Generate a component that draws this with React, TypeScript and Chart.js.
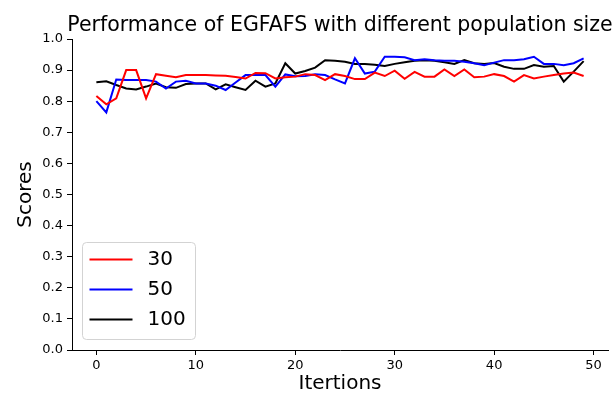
import React, { useEffect, useRef } from "react";
import { Chart, registerables } from "chart.js";

Chart.register(...registerables);

const ITERATIONS = [
  0, 1, 2, 3, 4, 5, 6, 7, 8, 9, 10, 11, 12, 13, 14, 15, 16, 17, 18, 19, 20, 21, 22, 23, 24,
  25, 26, 27, 28, 29, 30, 31, 32, 33, 34, 35, 36, 37, 38, 39, 40, 41, 42, 43, 44, 45, 46, 47, 48, 49,
];

const POP_30 = [
  0.817, 0.79, 0.809, 0.9, 0.9, 0.809, 0.887, 0.882, 0.877, 0.884,
  0.884, 0.884, 0.883, 0.882, 0.878, 0.873, 0.891, 0.89, 0.873, 0.877,
  0.879, 0.887, 0.884, 0.868, 0.887, 0.881, 0.871, 0.871, 0.892, 0.881,
  0.898, 0.872, 0.894, 0.879, 0.879, 0.902, 0.881, 0.902, 0.877, 0.879,
  0.887, 0.881, 0.863, 0.884, 0.873, 0.879, 0.884, 0.889, 0.892, 0.881,
];

const POP_50 = [
  0.8, 0.764, 0.87, 0.868, 0.868, 0.868, 0.863, 0.841, 0.863, 0.866,
  0.857, 0.857, 0.85, 0.836, 0.86, 0.884, 0.884, 0.884, 0.847, 0.886,
  0.88, 0.881, 0.887, 0.884, 0.87, 0.857, 0.938, 0.889, 0.895, 0.943,
  0.943, 0.941, 0.932, 0.935, 0.932, 0.93, 0.93, 0.927, 0.922, 0.916,
  0.924, 0.932, 0.932, 0.935, 0.943, 0.92, 0.92, 0.916, 0.922, 0.938,
];

const POP_100 = [
  0.861, 0.864, 0.852, 0.841, 0.838, 0.847, 0.857, 0.845, 0.843, 0.855,
  0.857, 0.857, 0.838, 0.854, 0.845, 0.836, 0.866, 0.847, 0.857, 0.922,
  0.889, 0.897, 0.908, 0.932, 0.93, 0.927, 0.92, 0.92, 0.917, 0.913,
  0.92, 0.925, 0.93, 0.932, 0.93, 0.925, 0.92, 0.932, 0.922, 0.92,
  0.923, 0.911, 0.904, 0.904, 0.916, 0.911, 0.913, 0.863, 0.895, 0.929,
];

const SERIES_LABELS = ["30", "50", "100"];
const SERIES_COLORS = ["#ff0000", "#0000ff", "#000000"];
const X_TICKS = [0, 10, 20, 30, 40, 50];
const Y_TICKS = [0, 0.1, 0.2, 0.3, 0.4, 0.5, 0.6, 0.7, 0.8, 0.9, 1.0];

const TITLE = "Performance of EGFAFS with different population size";
const X_LABEL = "Itertions";
const Y_LABEL = "Scores";
const FONT = "'DejaVu Sans', sans-serif";

const titlePlugin = {
  id: "mplTitle",
  afterDraw(chart: any) {
    const { ctx, chartArea } = chart;
    ctx.save();
    ctx.font = `20.5px ${FONT}`;
    ctx.fillStyle = "#000";
    ctx.textAlign = "center";
    ctx.textBaseline = "alphabetic";
    ctx.fillText(TITLE, (chartArea.left + chartArea.right) / 2, chartArea.top - 8);
    ctx.restore();
  },
};

const legendPlugin = {
  id: "mplLegend",
  afterDraw(chart: any) {
    const { ctx, chartArea } = chart;
    const boxX = chartArea.left + 10.5;
    const boxW = 113;
    const boxH = 97;
    const boxY = chartArea.bottom - 10.5 - boxH;
    ctx.save();
    ctx.beginPath();
    const r = 4;
    ctx.moveTo(boxX + r, boxY);
    ctx.lineTo(boxX + boxW - r, boxY);
    ctx.quadraticCurveTo(boxX + boxW, boxY, boxX + boxW, boxY + r);
    ctx.lineTo(boxX + boxW, boxY + boxH - r);
    ctx.quadraticCurveTo(boxX + boxW, boxY + boxH, boxX + boxW - r, boxY + boxH);
    ctx.lineTo(boxX + r, boxY + boxH);
    ctx.quadraticCurveTo(boxX, boxY + boxH, boxX, boxY + boxH - r);
    ctx.lineTo(boxX, boxY + r);
    ctx.quadraticCurveTo(boxX, boxY, boxX + r, boxY);
    ctx.closePath();
    ctx.fillStyle = "rgba(255,255,255,0.8)";
    ctx.fill();
    ctx.strokeStyle = "#d3d3d3";
    ctx.lineWidth = 1;
    ctx.stroke();

    ctx.font = `20px ${FONT}`;
    ctx.textBaseline = "middle";
    ctx.textAlign = "left";
    chart.data.datasets.forEach((ds: any, i: number) => {
      const y = boxY + 17 + i * 30;
      ctx.beginPath();
      ctx.strokeStyle = ds.borderColor;
      ctx.lineWidth = 2;
      ctx.moveTo(boxX + 7, y);
      ctx.lineTo(boxX + 50, y);
      ctx.stroke();
      ctx.fillStyle = "#000";
      ctx.fillText(ds.label, boxX + 65, y);
    });
    ctx.restore();
  },
};

export default function App() {
  const canvasRef = useRef<HTMLCanvasElement | null>(null);

  useEffect(() => {
    const canvas = canvasRef.current;
    if (!canvas) return;
    const seriesValues = [POP_30, POP_50, POP_100];
    const chart = new Chart(canvas, {
      type: "line",
      data: {
        datasets: seriesValues.map((vals, s) => ({
          label: SERIES_LABELS[s],
          data: ITERATIONS.map((x, i) => ({ x, y: vals[i] })),
          borderColor: SERIES_COLORS[s],
          backgroundColor: SERIES_COLORS[s],
          borderWidth: 2,
          pointRadius: 0,
          pointHoverRadius: 0,
          tension: 0,
          fill: false,
        })),
      },
      options: {
        responsive: false,
        animation: false,
        events: [],
        layout: { padding: { left: 0, right: 8, top: 39, bottom: 0 } },
        plugins: {
          legend: { display: false },
          tooltip: { enabled: false },
          title: { display: false },
        },
        scales: {
          x: {
            type: "linear",
            min: -2.45,
            max: 51.45,
            afterFit: (scale: any) => {
              scale.height = 44;
            },
            afterBuildTicks: (scale: any) => {
              scale.ticks = X_TICKS.map((v) => ({ value: v }));
            },
            grid: {
              display: true,
              drawOnChartArea: false,
              drawTicks: true,
              tickLength: 5,
              color: "#000",
              lineWidth: 1,
            },
            border: { display: true, color: "#000", width: 1 },
            ticks: {
              color: "#000",
              font: { family: FONT, size: 13 },
              padding: 3,
              maxRotation: 0,
              autoSkip: false,
              callback: (v: any) => String(v),
            },
            title: {
              display: true,
              text: X_LABEL,
              color: "#000",
              font: { family: FONT, size: 20, lineHeight: 1 },
              padding: { top: 0, bottom: 0 },
            },
          },
          y: {
            type: "linear",
            min: 0,
            max: 1,
            afterFit: (scale: any) => {
              scale.width = 72;
            },
            afterBuildTicks: (scale: any) => {
              scale.ticks = Y_TICKS.map((v) => ({ value: v }));
            },
            grid: {
              display: true,
              drawOnChartArea: false,
              drawTicks: true,
              tickLength: 5,
              color: "#000",
              lineWidth: 1,
            },
            border: { display: true, color: "#000", width: 1 },
            ticks: {
              color: "#000",
              font: { family: FONT, size: 13 },
              padding: 4,
              autoSkip: false,
              callback: (v: any) => Number(v).toFixed(1),
            },
            title: {
              display: true,
              text: Y_LABEL,
              color: "#000",
              font: { family: FONT, size: 20, lineHeight: 1 },
              padding: { top: 16, bottom: 0 },
            },
          },
        },
      },
      plugins: [titlePlugin, legendPlugin],
    } as any);
    return () => chart.destroy();
  }, []);

  return (
    <div style={{ position: "absolute", left: 0, top: 0, width: 616, height: 394, background: "#fff" }}>
      <canvas ref={canvasRef} width={616} height={394} style={{ width: 616, height: 394, display: "block" }} />
    </div>
  );
}
